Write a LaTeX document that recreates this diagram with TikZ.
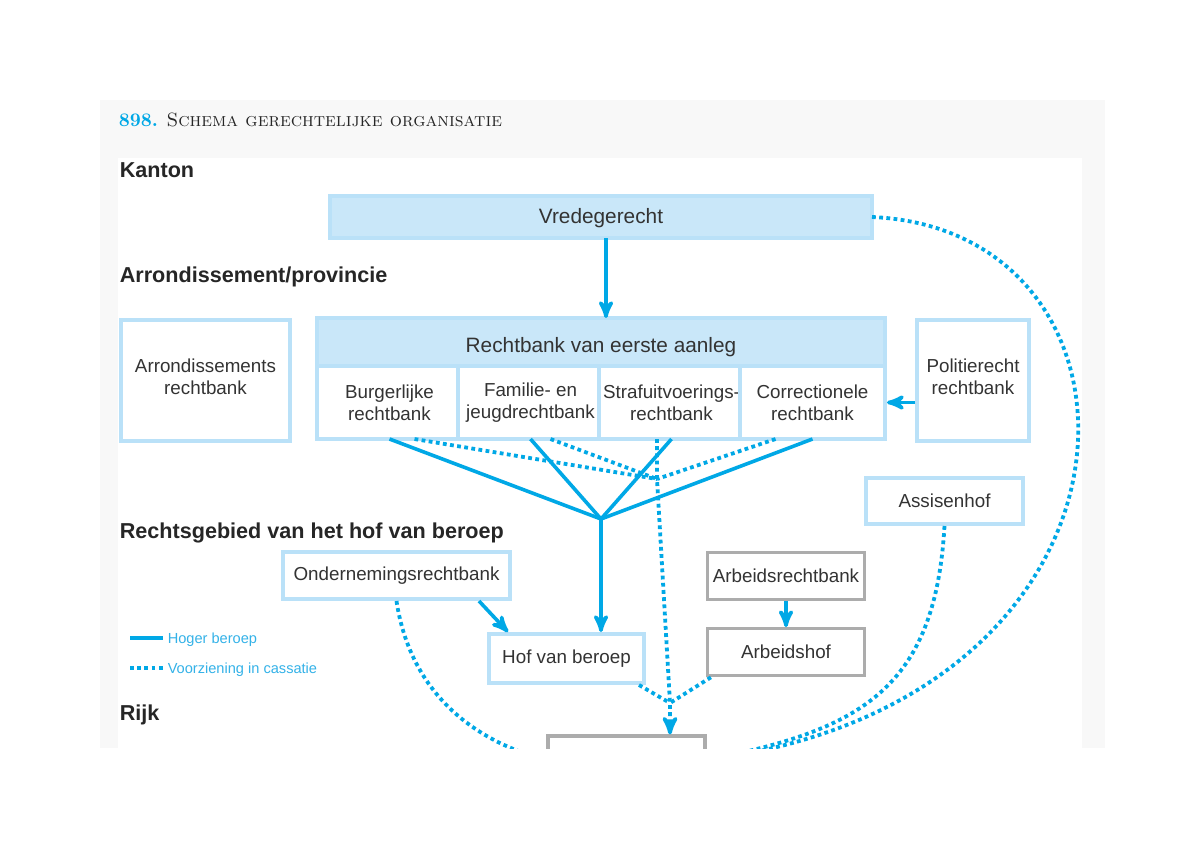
\documentclass[tikz,border=0pt]{standalone}
\usepackage{fontspec}
\usepackage{tikz}
\usetikzlibrary{arrows}
\usetikzlibrary{positioning}
\newfontfamily\diagfont{Liberation Sans}
\definecolor{lblue}{RGB}{201,231,249}
\definecolor{bblue}{RGB}{186,225,248}
\definecolor{cblue}{RGB}{0,168,230}
\definecolor{legblue}{RGB}{52,178,232}
\definecolor{dgrey}{RGB}{51,51,51}
\definecolor{mgrey}{RGB}{172,172,172}
\definecolor{pgrey}{RGB}{248,248,248}

\begin{document}
\begin{tikzpicture}[x=0.5pt,y=-0.5pt,>=stealth',thick]
      \tikzstyle{court}=[draw=bblue,line width=2pt,fill=white,text=dgrey,align=center,inner sep=0pt,font=\diagfont\fontsize{9.4}{11}\selectfont]
      \tikzstyle{head}=[court,fill=lblue,outer sep=0pt,font=\diagfont\fontsize{10.4}{12}\selectfont]
      \tikzstyle{sub}=[court,outer sep=0pt,minimum width=72.5pt,minimum height=36.5pt]
      \tikzstyle{labour}=[court,draw=mgrey,line width=1.6pt]
      \tikzstyle{level}=[anchor=base west,inner sep=0pt,text=black!85,font=\diagfont\bfseries\fontsize{10.8}{12}\selectfont]
      \tikzstyle{legend}=[anchor=base west,inner sep=0pt,text=legblue,font=\diagfont\fontsize{7.3}{9}\selectfont]
      \tikzstyle{appeal}=[draw=cblue,line width=1.8pt]
      \tikzstyle{cass}=[draw=cblue,line width=1.9pt,dash pattern=on 1.9pt off 1.7pt]

      \useasboundingbox (0,0) rectangle (1200,848);
      \fill[white] (0,0) rectangle (1200,848);
      \fill[pgrey] (100,100) rectangle (1105,748);
      \fill[white] (118,158) rectangle (1082,748);

      \node[anchor=base west,inner sep=0pt,text=black!85,font=\fontsize{9.6}{11}\selectfont] (T) at (118,126)
            {\textcolor{cblue}{\textbf{898.}} \textsc{Schema gerechtelijke organisatie}};

      \begin{scope}
      \clip (100,100) rectangle (1105,748);

      % levels
      \node[level] (L1) at (119,177) {Kanton};
      \node[level] (L2) at (119,282) {Arrondissement/provincie};
      \node[level] (L3) at (119,538) {Rechtsgebied van het hof van beroep};
      \node[level] (L4) at (119,720) {Rijk};

      % courts
      \node[head,minimum width=271pt,minimum height=21pt,text height=8.5pt] (VG) at (601,217) {Vredegerecht};
      \node[head,minimum width=284pt,minimum height=24pt,text height=12.5pt] (RB) at (601,342) {Rechtbank van eerste aanleg};
      \node[sub,anchor=north west] (BR) at (RB.south west) {Burgerlijke\\rechtbank};
      \node[sub] (FJ) [right=-2pt of BR] {Familie- en\\jeugdrechtbank};
      \node[sub] (SU) [right=-2pt of FJ] {Strafuitvoerings-\\rechtbank};
      \node[sub] (CR) [right=-2pt of SU] {Correctionele\\rechtbank};
      \node[court,minimum width=84.5pt,minimum height=60.5pt,text depth=4pt] (AR) at (205.5,380.5) {Arrondissements\\rechtbank};
      \node[court,minimum width=56pt,minimum height=60.5pt,text depth=4pt] (PR) at (973,380.5) {Politierecht\\rechtbank};
      \node[court,minimum width=78.5pt,minimum height=23pt] (AS) at (944.5,501) {Assisenhof};
      \node[court,minimum width=113.5pt,minimum height=23.5pt] (OR) at (396.5,575.5) {Ondernemingsrechtbank};
      \node[court,minimum width=77.5pt,minimum height=24.5pt] (HB) at (566.5,658.5) {Hof van beroep};
      \node[labour,minimum width=78.5pt,minimum height=23.5pt] (ARB) at (786,576) {Arbeidsrechtbank};
      \node[labour,minimum width=78.5pt,minimum height=23.5pt] (AH) [below=13pt of ARB] {Arbeidshof};
      \node[labour,minimum width=78.5pt,minimum height=24pt] (CS) at (626.5,760) {};

      \coordinate (J) at (601,519);
      \coordinate (K) at (657,479);
      \coordinate (M) at (670,703);

      % hoger beroep
      \draw[appeal,->] ([xshift=2.5pt]VG.south) -- ([xshift=2.5pt]RB.north);
      \draw[appeal] (BR.south) -- (J);
      \draw[appeal] (FJ.south) -- (J);
      \draw[appeal] (SU.south) -- (J);
      \draw[appeal] (CR.south) -- (J);
      \draw[appeal,->] (J) -- (J |- HB.north);
      \draw[appeal,->] ([xshift=-16.5pt]OR.south east) -- ([xshift=10.5pt]HB.north west);
      \draw[appeal,->] (PR.west |- CR) -- ([xshift=1pt]CR.east);
      \draw[appeal,->] (ARB) -- (AH);

      % voorziening in cassatie
      \draw[cass] ([xshift=12.5pt]BR.south) -- (K);
      \draw[cass] ([xshift=10pt]FJ.south) -- (K);
      \draw[cass] ([xshift=-18.5pt]CR.south) -- (K);
      \draw[cass,->] (K |- SU.south) -- (K) -- (M) -- (M |- CS.north);
      \draw[cass] ([xshift=-3.5pt]HB.south east) -- (M);
      \draw[cass] ([xshift=2.5pt]AH.south west) -- (M);
      \draw[cass] (VG.east) .. controls (1170,230) and (1170,700) .. (CS.east);
      \draw[cass] (AS.south) .. controls (935,690) and (860,730) .. (CS.east);
      \draw[cass] (OR.south) .. controls (410,690) and (470,740) .. (CS.west);

      % legend
      \node[legend] (LH) at (167,643) {Hoger beroep};
      \node[legend] (LV) at (167,673) {Voorziening in cassatie};
      \coordinate (LH0) at (130,638);
      \coordinate (LV0) at (130,668);
      \draw[appeal,line width=1.9pt] (LH0) -- (LH0 -| 163,0);
      \draw[cass] (LV0) -- (LV0 -| 163,0);
      \end{scope}
  \end{tikzpicture}
\end{document}
